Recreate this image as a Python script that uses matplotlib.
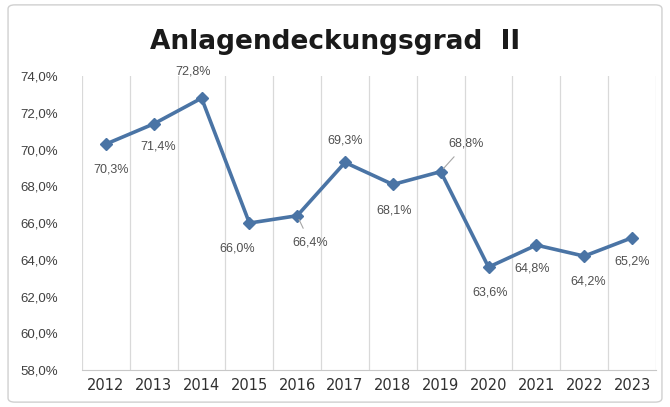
import matplotlib.pyplot as plt
from matplotlib.patches import FancyBboxPatch

years = ['2012', '2013', '2014', '2015', '2016', '2017',
         '2018', '2019', '2020', '2021', '2022', '2023']
values = [70.3, 71.4, 72.8, 66.0, 66.4, 69.3, 68.1, 68.8, 63.6, 64.8, 64.2, 65.2]
# label offsets in points (dx, dy)
label_offsets = [(4, -18), (3, -16), (-6, 19), (-9, -18), (9, -19), (0, 16),
                 (1, -19), (18, 20), (1, -18), (-3, -17), (3, -18), (0, -17)]
leader = [False, False, False, False, True, False, False, True, False, False, False, False]

plt.rcParams['font.family'] = ['Liberation Sans', 'DejaVu Sans']

fig = plt.figure(figsize=(6.7, 4.07), dpi=100)
fig.patches.append(FancyBboxPatch((0.012, 0.012), 0.976, 0.976,
                                  boxstyle='round,pad=0,rounding_size=0.01',
                                  transform=fig.transFigure, fill=False,
                                  edgecolor='#d0d0d0', linewidth=1.0))
ax = fig.add_axes([0.1224, 0.0909, 0.8566, 0.7221])

x = list(range(len(years)))
ax.plot(x, values, color='#4a74a5', linewidth=2.6, marker='D', markersize=6,
        markerfacecolor='#4a74a5', markeredgecolor='#4a74a5', zorder=3)

for i, v in enumerate(values):
    dx, dy = label_offsets[i]
    txt = f'{v:.1f}%'.replace('.', ',')
    if leader[i]:
        ax.annotate(txt, (i, v), xytext=(dx, dy), textcoords='offset points',
                    ha='center', va='center', fontsize=9, color='#505050',
                    arrowprops=dict(arrowstyle='-', color='#a6a6a6', lw=0.8,
                                    shrinkA=4, shrinkB=3))
    else:
        ax.annotate(txt, (i, v), xytext=(dx, dy), textcoords='offset points',
                    ha='center', va='center', fontsize=9, color='#505050')

ax.set_xlim(-0.5, len(years) - 0.5)
ax.set_ylim(58, 74)
ax.set_yticks([58, 60, 62, 64, 66, 68, 70, 72, 74])
ax.set_yticklabels([f'{t:.1f}%'.replace('.', ',') for t in ax.get_yticks()],
                   fontsize=9.5, color='#404040')
ax.set_xticks(x)
ax.set_xticklabels(years, fontsize=10.5, color='#303030', family='DejaVu Sans')
ax.tick_params(axis='y', length=0, pad=17)
ax.tick_params(axis='x', length=0, pad=6)

for b in range(len(years) + 1):
    ax.axvline(b - 0.5, color='#d9d9d9', linewidth=0.9, zorder=0)

for s in ['top', 'right', 'left']:
    ax.spines[s].set_visible(False)
ax.spines['bottom'].set_color('#c8c8c8')

fig.text(0.5, 0.897, 'Anlagendeckungsgrad  II', ha='center', va='center',
         fontsize=19, fontweight='bold', color='#1a1a1a', family='DejaVu Sans')

fig.savefig('out.png', dpi=100)
